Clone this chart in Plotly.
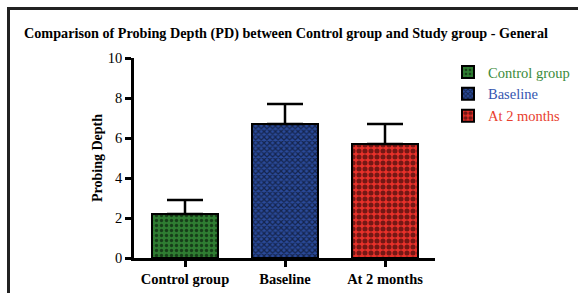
import plotly.graph_objects as go

categories = ["Control group", "Baseline", "At 2 months"]
means = [2.2, 6.7, 5.7]
sd_upper = [0.7, 1.0, 1.0]
y_ticks = [0, 2, 4, 6, 8, 10]

bg_colors = ["#2f7d32", "#2a4a9a", "#e8312a"]
legend_colors = ["#3a8a3a", "#3656b0", "#e8402e"]
shapes_pat = [".", "x", "."]
sizes = [5, 4, 6]
solid = [0.35, 0.5, 0.55]

fig = go.Figure()
for i, c in enumerate(categories):
    fig.add_trace(go.Bar(
        x=[c], y=[means[i]],
        name=f'<span style="color:{legend_colors[i]}">{c}</span>',
        width=0.66,
        marker=dict(
            color=bg_colors[i],
            line=dict(color="black", width=2),
            pattern=dict(shape=shapes_pat[i], fgcolor="black", bgcolor=bg_colors[i],
                         size=sizes[i], solidity=solid[i], fillmode="overlay"),
        ),
        error_y=dict(type="data", symmetric=False, array=[sd_upper[i]], arrayminus=[0],
                     color="black", thickness=2.5, width=18),
    ))

L, R, T, B = 134, 143, 58, 35
W, H = 578, 293
pw, ph = W - L - R, H - T - B

def px2x(px):
    return (px - L) / pw

def py2y(py):
    return (H - B - py) / ph

fig.add_shape(type="line", xref="paper", yref="paper",
              x0=px2x(8.5), y0=py2y(300), x1=px2x(8.5), y1=py2y(8.5),
              line=dict(color="#222", width=3))
fig.add_shape(type="line", xref="paper", yref="paper",
              x0=px2x(7), y0=py2y(8.5), x1=px2x(590), y1=py2y(8.5),
              line=dict(color="#222", width=3))

font_family = "Liberation Serif, Times New Roman, serif"
fig.update_layout(
    width=W, height=H,
    margin=dict(l=L, r=R, t=T, b=B),
    paper_bgcolor="white", plot_bgcolor="white",
    font=dict(family=font_family, color="black"),
    title=dict(text="<b>Comparison of Probing Depth (PD) between Control group and Study group - General</b>",
               x=24 / W, xanchor="left", y=1 - 33 / H, yanchor="middle",
               font=dict(size=14.2, family=font_family, color="black")),
    showlegend=True,
    legend=dict(xref="container", yref="container", x=448 / W, y=1 - 56 / H,
                xanchor="left", yanchor="top",
                font=dict(size=14.5, family=font_family), bgcolor="rgba(0,0,0,0)",
                tracegroupgap=4, itemwidth=30),
    barmode="overlay",
    xaxis=dict(range=[-0.51, 2.5], showline=True, linecolor="black", linewidth=2.5,
               ticks="outside", ticklen=6, tickwidth=2.5, tickcolor="black",
               tickfont=dict(size=14.5, family=font_family, color="black"),
               tickprefix="<b>", ticksuffix="</b>", showgrid=False, zeroline=False,
               fixedrange=True, automargin=False),
    yaxis=dict(range=[0, 10], tickvals=y_ticks, showline=True, linecolor="black", linewidth=2.5,
               ticks="outside", ticklen=6, tickwidth=2.5, tickcolor="black",
               tickfont=dict(size=14.5, family=font_family, color="black"),
               tickprefix="<b>", ticksuffix="</b>", showgrid=False, zeroline=False,
               title=dict(text="<b>Probing Depth</b>", font=dict(size=14, family=font_family), standoff=2),
               fixedrange=True, automargin=False),
)

fig.write_html("out.html", config={"displayModeBar": False},
               post_script="document.body.style.margin='0';document.body.style.overflow='hidden';")
